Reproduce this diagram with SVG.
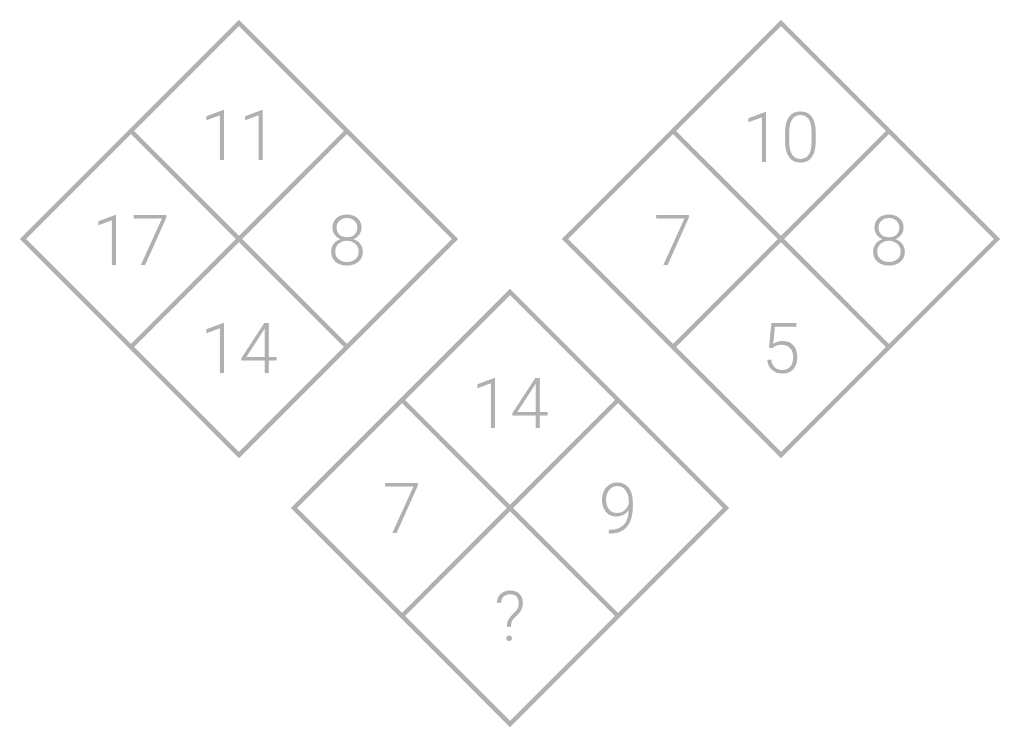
<svg xmlns="http://www.w3.org/2000/svg" width="1021" height="748" viewBox="0 0 1021 748">
<style>
.d{fill:none;stroke:#b0b0b0;stroke-width:4.5;stroke-linejoin:miter}
.t{font-family:Roboto,"Liberation Sans",sans-serif;font-weight:300;font-size:70px;fill:#b0b0b0;text-anchor:middle}
</style>
<rect width="1021" height="748" fill="#ffffff"/>
<g id="connectors"></g>
<g id="diamond-left">
<path class="d" d="M239 23 L455 239 L239 455 L23 239 Z M131 131 L347 347 M347 131 L131 347"/>
<text class="t" x="239" y="160">11</text>
<text class="t" x="131" y="265">17</text>
<text class="t" x="347" y="265">8</text>
<text class="t" x="239" y="373">14</text>
</g>
<g id="diamond-right">
<path class="d" d="M781 23 L997 239 L781 455 L565 239 Z M673 131 L889 347 M889 131 L673 347"/>
<text class="t" x="781" y="162">10</text>
<text class="t" x="673" y="265">7</text>
<text class="t" x="889" y="265">8</text>
<text class="t" x="781" y="373">5</text>
</g>
<g id="diamond-bottom">
<path class="d" d="M510 292 L726 508 L510 724 L294 508 Z M402 400 L618 616 M618 400 L402 616"/>
<text class="t" x="510" y="428">14</text>
<text class="t" x="402" y="533">7</text>
<text class="t" x="618" y="533">9</text>
<text class="t" x="510" y="641">?</text>
</g>
</svg>
